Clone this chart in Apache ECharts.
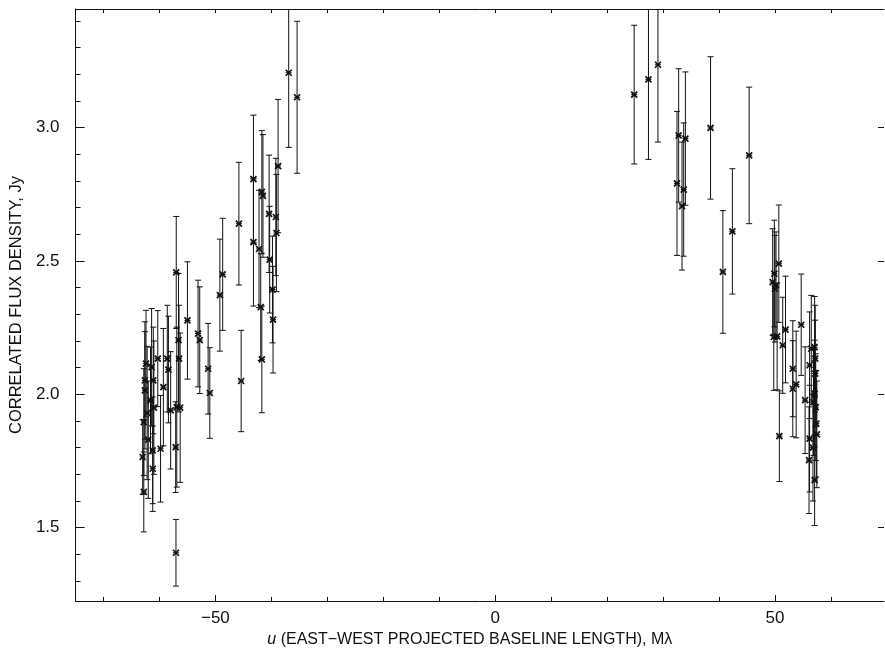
<!DOCTYPE html>
<html>
<head>
<meta charset="utf-8">
<script src="https://cdn.jsdelivr.net/npm/echarts@6.0.0/dist/echarts.min.js"></script>
<style>
  html, body { margin: 0; padding: 0; background: #fff; }
  #chart { width: 885px; height: 660px; }
</style>
</head>
<body>
<div id="chart"></div>
<script>
// west side (negative u) points
const uWest = [-63.0, -62.8, -62.8, -62.6, -62.6, -62.4, -62.2, -62.0, -61.6, -61.4,
  -61.2, -61.2, -61.1, -61.0, -60.3, -59.8, -59.3, -58.6, -58.4, -58.0,
  -57.1, -57.05, -56.9, -56.6, -56.5, -57.0, -56.3, -55.0, -53.1, -52.8,
  -51.3, -51.0, -49.2, -48.7, -45.8, -45.4, -43.2, -43.2, -42.2, -41.9,
  -41.7, -41.7, -41.5, -40.4, -40.3, -39.8, -39.7, -39.2, -39.1, -38.8,
  -36.9, -35.4];
const fluxWest = [1.765, 1.634, 1.896, 2.015, 2.052, 2.115, 1.930, 1.830, 1.977, 2.102,
  1.721, 1.790, 2.052, 1.950, 2.134, 1.796, 2.027, 2.134, 2.093, 1.940,
  1.802, 1.406, 1.952, 2.203, 2.134, 2.457, 1.950, 2.277, 2.228, 2.203,
  2.096, 2.005, 2.372, 2.450, 2.640, 2.050, 2.807, 2.571, 2.545, 2.327,
  2.759, 2.131, 2.744, 2.677, 2.505, 2.393, 2.280, 2.665, 2.605, 2.856,
  3.206, 3.114];
const errWest = [0.14, 0.15, 0.20, 0.22, 0.22, 0.20, 0.25, 0.22, 0.20, 0.22,
  0.16, 0.20, 0.20, 0.25, 0.18, 0.20, 0.22, 0.20, 0.20, 0.22,
  0.17, 0.125, 0.30, 0.25, 0.20, 0.21, 0.28, 0.22, 0.20, 0.20,
  0.17, 0.17, 0.21, 0.21, 0.23, 0.19, 0.24, 0.24, 0.22, 0.20,
  0.23, 0.20, 0.23, 0.22, 0.20, 0.20, 0.20, 0.22, 0.22, 0.25,
  0.28, 0.285];

// east side (positive u) points
const uEast = [24.85, 27.4, 29.1, 32.5, 32.8, 33.4, 33.7, 34.0, 38.5, 40.7,
  42.4, 45.4, 49.6, 50.2, 50.0, 50.7, 49.9, 49.8, 50.4, 51.4,
  51.9, 50.8, 53.2, 53.2, 53.8, 54.7, 55.4, 56.2, 56.5, 57.1,
  57.2, 57.2, 57.1, 56.9, 57.3, 57.4, 56.2, 56.1, 57.1, 56.8,
  57.5];
const fluxEast = [3.124, 3.181, 3.236, 2.791, 2.971, 2.706, 2.768, 2.959, 2.999, 2.459,
  2.611, 2.896, 2.421, 2.409, 2.396, 2.490, 2.453, 2.215, 2.217, 2.184,
  2.243, 1.843, 2.096, 2.021, 2.037, 2.261, 1.978, 2.109, 2.171, 2.177,
  2.134, 2.078, 2.003, 1.971, 1.952, 1.890, 1.834, 1.753, 1.678, 1.800,
  1.850];
const errEast = [0.26, 0.30, 0.29, 0.27, 0.25, 0.24, 0.25, 0.25, 0.267, 0.23,
  0.235, 0.256, 0.20, 0.20, 0.20, 0.22, 0.20, 0.20, 0.20, 0.18,
  0.20, 0.17, 0.18, 0.18, 0.20, 0.19, 0.20, 0.20, 0.20, 0.19,
  0.20, 0.20, 0.20, 0.20, 0.20, 0.20, 0.20, 0.20, 0.17, 0.20,
  0.20];

const xTickLabels = [-50, 0, 50];
const xMinorTicks = [-70, -60, -40, -30, -20, -10, 10, 20, 30, 40, 60];
const yTickLabels = [1.5, 2.0, 2.5, 3.0];
const yMinorTicks = [1.3, 1.4, 1.6, 1.7, 1.8, 1.9, 2.1, 2.2, 2.3, 2.4, 2.6, 2.7, 2.8, 2.9, 3.1, 3.2, 3.3, 3.4];

const points = [];
uWest.forEach((u, i) => points.push([u, fluxWest[i], errWest[i]]));
uEast.forEach((u, i) => points.push([u, fluxEast[i], errEast[i]]));

const font = "'Liberation Sans', Arial, sans-serif";
const ink = '#111';

const chart = echarts.init(document.getElementById('chart'));

// vertical error bar with caps and an x marker at the value
const renderErrorBar = (params, api) => {
  const u = api.value(0);
  const f = api.value(1);
  const e = api.value(2);
  const top = api.coord([u, f + e]);
  const bot = api.coord([u, f - e]);
  const c = api.coord([u, f]);
  const cap = 3;
  const m = 3;
  const style = { stroke: ink, lineWidth: 1 };
  return {
    type: 'group',
    children: [
      { type: 'line', shape: { x1: top[0], y1: top[1], x2: bot[0], y2: bot[1] }, style },
      { type: 'line', shape: { x1: top[0] - cap, y1: top[1], x2: top[0] + cap, y2: top[1] }, style },
      { type: 'line', shape: { x1: bot[0] - cap, y1: bot[1], x2: bot[0] + cap, y2: bot[1] }, style },
      { type: 'line', shape: { x1: c[0] - m, y1: c[1] - m, x2: c[0] + m, y2: c[1] + m }, style: { stroke: ink, lineWidth: 1.7 } },
      { type: 'line', shape: { x1: c[0] - m, y1: c[1] + m, x2: c[0] + m, y2: c[1] - m }, style: { stroke: ink, lineWidth: 1.7 } },
      { type: 'line', shape: { x1: c[0] - m, y1: c[1], x2: c[0] + m, y2: c[1] }, style }
    ]
  };
};

const xBase = { type: 'value', min: -75, max: 69.5, splitLine: { show: false } };
const yBase = { type: 'value', min: 1.225, max: 3.445, splitLine: { show: false } };

const option = {
  animation: false,
  backgroundColor: '#fff',
  grid: { left: 75.5, right: 1, top: 9, bottom: 59 },
  xAxis: [
    {
      ...xBase, position: 'bottom',
      axisLine: { onZero: false, lineStyle: { color: ink, width: 1 } },
      axisTick: { inside: true, length: 6, customValues: xTickLabels, lineStyle: { color: ink } },
      axisLabel: {
        customValues: xTickLabels, margin: 9, color: ink, fontSize: 17, fontFamily: font,
        formatter: v => (v < 0 ? '\u2212' + Math.abs(v) : String(v))
      },
      name: '{i|u} (EAST\u2212WEST PROJECTED BASELINE LENGTH), M\u03bb',
      nameLocation: 'middle', nameGap: 31,
      nameTextStyle: {
        color: ink, fontSize: 16, fontFamily: font, padding: [0, 20, 0, 0],
        rich: { i: { fontStyle: 'italic', fontSize: 16, fontFamily: font, color: ink } }
      }
    },
    {
      ...xBase, position: 'bottom',
      axisLine: { show: false, onZero: false },
      axisTick: { inside: true, length: 4, customValues: xMinorTicks, lineStyle: { color: ink } },
      axisLabel: { show: false }
    },
    {
      ...xBase, position: 'top',
      axisLine: { onZero: false, lineStyle: { color: ink, width: 1 } },
      axisTick: { inside: true, length: 4, customValues: xMinorTicks.concat(xTickLabels), lineStyle: { color: ink } },
      axisLabel: { show: false }
    }
  ],
  yAxis: [
    {
      ...yBase, position: 'left',
      axisLine: { show: true, onZero: false, lineStyle: { color: ink, width: 1 } },
      axisTick: { inside: true, length: 9, customValues: yTickLabels, lineStyle: { color: ink } },
      axisLabel: {
        customValues: yTickLabels, margin: 16, color: ink, fontSize: 17, fontFamily: font,
        formatter: v => v.toFixed(1)
      },
      name: 'CORRELATED FLUX DENSITY, Jy',
      nameLocation: 'middle', nameGap: 49,
      nameTextStyle: { color: ink, fontSize: 16.5, fontFamily: font }
    },
    {
      ...yBase, position: 'left',
      axisLine: { show: false, onZero: false },
      axisTick: { inside: true, length: 5, customValues: yMinorTicks, lineStyle: { color: ink } },
      axisLabel: { show: false }
    },
    {
      ...yBase, position: 'right',
      axisLine: { show: false, onZero: false },
      axisTick: { show: true, inside: true, length: 6, customValues: yTickLabels, lineStyle: { color: ink } },
      axisLabel: { show: false }
    }
  ],
  series: [
    {
      type: 'custom',
      xAxisIndex: 0,
      yAxisIndex: 0,
      clip: true,
      renderItem: renderErrorBar,
      encode: { x: 0, y: 1 },
      data: points
    }
  ]
};

chart.setOption(option);
</script>
</body>
</html>
